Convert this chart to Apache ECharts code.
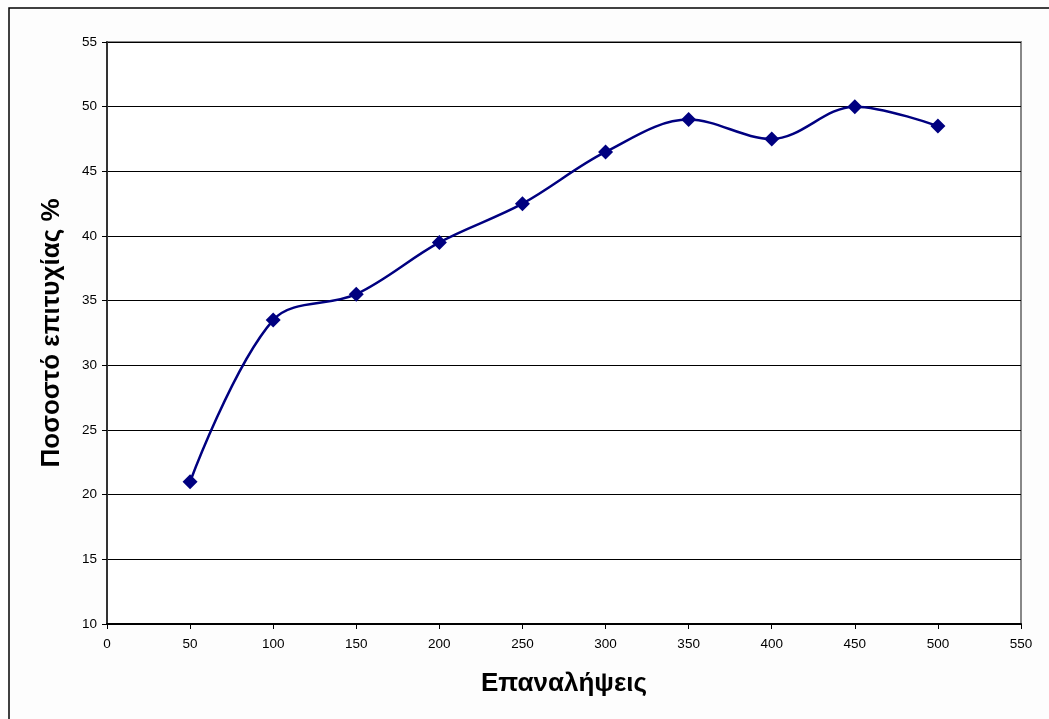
<!DOCTYPE html>
<html>
<head>
<meta charset="utf-8">
<script src="https://cdn.jsdelivr.net/npm/echarts@6/dist/echarts.min.js"></script>
<style>
  html, body { margin: 0; padding: 0; background: #fff; }
  #chart { width: 1049px; height: 719px; }
</style>
</head>
<body>
<div id="chart"></div>
<script>
// επαναλήψεις (x) και ποσοστό επιτυχίας (y)
const iterations = [50, 100, 150, 200, 250, 300, 350, 400, 450, 500];
const successRate = [21, 33.5, 35.5, 39.5, 42.5, 46.5, 49, 47.5, 50, 48.5];

const xName = 'Επαναλήψεις';
const yName = 'Ποσοστό επιτυχίας %';

const chart = echarts.init(document.getElementById('chart'));

const points = iterations.map((x, i) => [x, successRate[i]]);

chart.setOption({
  backgroundColor: '#fdfdfd',
  animation: false,
  graphic: [
    {
      type: 'rect',
      shape: { x: 9, y: 8, width: 1060, height: 720 },
      style: { fill: 'none', stroke: '#000', lineWidth: 1.5 },
      silent: true
    }
  ],
  grid: { left: 107, right: 28, top: 42, bottom: 95, show: true, borderColor: '#888', borderWidth: 2, backgroundColor: '#fff' },
  xAxis: {
    type: 'value',
    min: 0,
    max: 550,
    interval: 50,
    name: xName,
    nameLocation: 'middle',
    nameGap: 47,
    nameTextStyle: { fontFamily: 'Liberation Sans', fontWeight: 'bold', fontSize: 26, color: '#000' },
    axisLine: { lineStyle: { color: '#000', width: 2 } },
    axisTick: { show: true, inside: false, length: 5, lineStyle: { color: '#000' } },
    axisLabel: { fontFamily: 'Liberation Sans', fontSize: 13.5, color: '#000', margin: 13 },
    splitLine: { show: false }
  },
  yAxis: {
    type: 'value',
    min: 10,
    max: 55,
    interval: 5,
    name: yName,
    nameLocation: 'middle',
    nameGap: 42,
    nameTextStyle: { fontFamily: 'Liberation Sans', fontWeight: 'bold', fontSize: 26, color: '#000' },
    axisLine: { show: true, lineStyle: { color: '#333', width: 2 } },
    axisTick: { show: true, inside: false, length: 5, lineStyle: { color: '#000' } },
    axisLabel: { fontFamily: 'Liberation Sans', fontSize: 13.5, color: '#000', margin: 10 },
    splitLine: { show: true, lineStyle: { color: '#000', width: 1 } }
  },
  series: [
    {
      type: 'line',
      data: points,
      smooth: 0.35,
      symbol: 'diamond',
      symbolSize: 15,
      itemStyle: { color: '#000080' },
      lineStyle: { color: '#000080', width: 2.5 }
    }
  ]
});
</script>
</body>
</html>
